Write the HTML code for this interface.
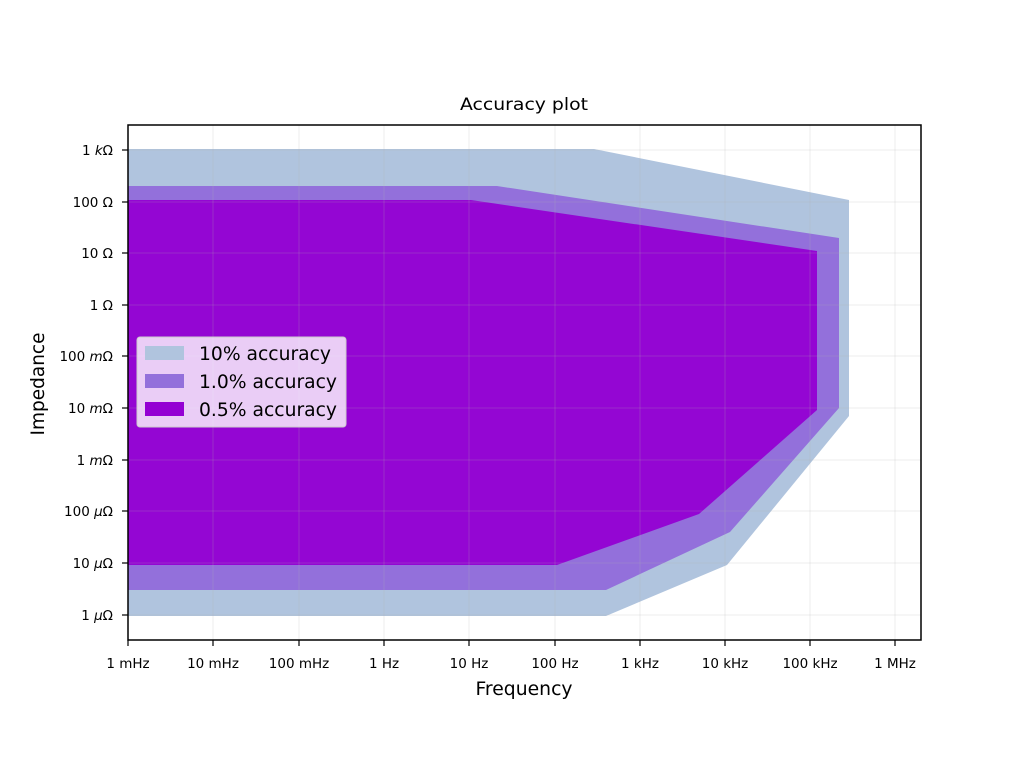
<!DOCTYPE html>
<html><head><meta charset="utf-8"><style>
body{margin:0;background:#fff;}
svg{display:block;font-family:"DejaVu Sans","Liberation Sans",sans-serif;}
</style></head><body>
<svg width="1024" height="768" viewBox="0 0 1024 768" xmlns="http://www.w3.org/2000/svg">
<rect width="1024" height="768" fill="#fff"/>
<polygon points="128,149 594,149 849,200 849,416 727,565 606,616 128,616" fill="#b0c4de"/>
<polygon points="128,186 497,186 839,238 839,408 730,532 606,590 128,590" fill="#9370db"/>
<polygon points="128,200 471,200 817,251 817,410 699,514 557,565 128,565" fill="#9400d3" fill-opacity="0.95"/>
<g stroke="#b0b0b0" stroke-opacity="0.3" stroke-width="0.8">
<line x1="213" y1="125" x2="213" y2="640"/><line x1="299" y1="125" x2="299" y2="640"/>
<line x1="384" y1="125" x2="384" y2="640"/><line x1="469" y1="125" x2="469" y2="640"/>
<line x1="555" y1="125" x2="555" y2="640"/><line x1="640" y1="125" x2="640" y2="640"/>
<line x1="725" y1="125" x2="725" y2="640"/><line x1="810" y1="125" x2="810" y2="640"/>
<line x1="895" y1="125" x2="895" y2="640"/>
<line x1="128" y1="150" x2="921" y2="150"/><line x1="128" y1="202" x2="921" y2="202"/>
<line x1="128" y1="253" x2="921" y2="253"/><line x1="128" y1="305" x2="921" y2="305"/>
<line x1="128" y1="356" x2="921" y2="356"/><line x1="128" y1="408" x2="921" y2="408"/>
<line x1="128" y1="460" x2="921" y2="460"/><line x1="128" y1="511" x2="921" y2="511"/>
<line x1="128" y1="563" x2="921" y2="563"/><line x1="128" y1="615" x2="921" y2="615"/>
</g>
<rect x="128" y="125" width="793" height="515" fill="none" stroke="#000" stroke-width="1.5"/>
<g stroke="#000" stroke-width="1.2">
<line x1="128" y1="640" x2="128" y2="646"/><line x1="213" y1="640" x2="213" y2="646"/><line x1="299" y1="640" x2="299" y2="646"/><line x1="384" y1="640" x2="384" y2="646"/><line x1="469" y1="640" x2="469" y2="646"/><line x1="555" y1="640" x2="555" y2="646"/><line x1="640" y1="640" x2="640" y2="646"/><line x1="725" y1="640" x2="725" y2="646"/><line x1="810" y1="640" x2="810" y2="646"/><line x1="895" y1="640" x2="895" y2="646"/>
<line x1="122" y1="150" x2="128" y2="150"/><line x1="122" y1="202" x2="128" y2="202"/><line x1="122" y1="253" x2="128" y2="253"/><line x1="122" y1="305" x2="128" y2="305"/><line x1="122" y1="356" x2="128" y2="356"/><line x1="122" y1="408" x2="128" y2="408"/><line x1="122" y1="460" x2="128" y2="460"/><line x1="122" y1="511" x2="128" y2="511"/><line x1="122" y1="563" x2="128" y2="563"/><line x1="122" y1="615" x2="128" y2="615"/>
</g>
<g font-size="13.5" text-anchor="middle" fill="#000">
<text x="128" y="668">1 mHz</text><text x="213" y="668">10 mHz</text><text x="299" y="668">100 mHz</text><text x="384" y="668">1 Hz</text><text x="469" y="668">10 Hz</text><text x="555" y="668">100 Hz</text><text x="640" y="668">1 kHz</text><text x="725" y="668">10 kHz</text><text x="810" y="668">100 kHz</text><text x="895" y="668">1 MHz</text>
</g>
<g font-size="13.5" text-anchor="end" fill="#000">
<text x="113" y="155">1 <tspan font-style="italic">k</tspan>Ω</text>
<text x="113" y="207">100 Ω</text><text x="113" y="258">10 Ω</text><text x="113" y="310">1 Ω</text>
<text x="113" y="361">100 <tspan font-style="italic">m</tspan>Ω</text>
<text x="113" y="413">10 <tspan font-style="italic">m</tspan>Ω</text>
<text x="113" y="465">1 <tspan font-style="italic">m</tspan>Ω</text>
<text x="113" y="516">100 <tspan font-style="italic">μ</tspan>Ω</text>
<text x="113" y="568">10 <tspan font-style="italic">μ</tspan>Ω</text>
<text x="113" y="620">1 <tspan font-style="italic">μ</tspan>Ω</text>
</g>
<text x="524" y="110" font-size="17" text-anchor="middle" textLength="128" lengthAdjust="spacingAndGlyphs">Accuracy plot</text>
<text x="524" y="695" font-size="19" text-anchor="middle" textLength="97" lengthAdjust="spacingAndGlyphs">Frequency</text>
<text transform="translate(44,384) rotate(-90)" font-size="19" text-anchor="middle" textLength="103" lengthAdjust="spacingAndGlyphs">Impedance</text>
<rect x="137" y="337" width="209" height="90" rx="3" fill="#fff" fill-opacity="0.8" stroke="#ccc"/>
<rect x="145" y="346" width="39" height="14" fill="#b0c4de"/>
<rect x="145" y="374" width="39" height="14" fill="#9370db"/>
<rect x="145" y="402" width="39" height="14" fill="#9400d3"/>
<g font-size="18.5" fill="#000">
<text x="199" y="360" textLength="132" lengthAdjust="spacingAndGlyphs">10% accuracy</text>
<text x="199" y="388" textLength="138" lengthAdjust="spacingAndGlyphs">1.0% accuracy</text>
<text x="199" y="416" textLength="138" lengthAdjust="spacingAndGlyphs">0.5% accuracy</text>
</g>
</svg>
</body></html>
